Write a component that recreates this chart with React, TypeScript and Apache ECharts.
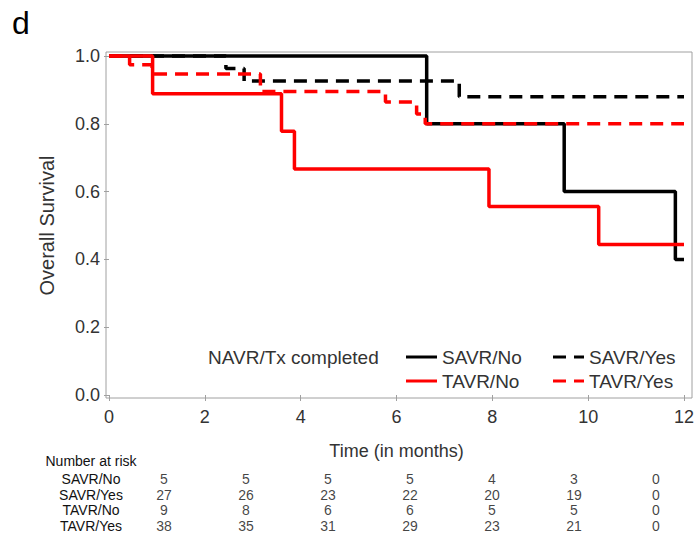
import React, { useEffect, useRef } from "react";
import * as echarts from "echarts";

const FONT = "'Liberation Sans', Arial, Helvetica, sans-serif";
const GRAY = "#a0a0a0";
const TEXT = "#333333";

// Time ticks (months)
const timeTicks = [0, 2, 4, 6, 8, 10, 12];

// Kaplan-Meier steps: [time, survival]
const savrNo = [[0, 1], [6.63, 0.8], [9.5, 0.6], [11.82, 0.4], [12, 0.4]];
const savrYes = [[0, 1], [2.44, 0.963], [2.82, 0.926], [7.31, 0.88], [12, 0.88]];
const tavrNo = [[0, 1], [0.91, 0.889], [3.6, 0.778], [3.87, 0.667], [7.93, 0.556], [10.22, 0.444], [12, 0.444]];
const tavrYes = [[0, 1], [0.43, 0.974], [0.9, 0.947], [3.16, 0.895], [5.77, 0.864], [6.42, 0.829], [6.6, 0.8], [12, 0.8]];

// Number at risk table
const riskGroups = ["SAVR/No", "SAVR/Yes", "TAVR/No", "TAVR/Yes"];
const riskSavrNo = [5, 5, 5, 5, 4, 3, 0];
const riskSavrYes = [27, 26, 23, 22, 20, 19, 0];
const riskTavrNo = [9, 8, 6, 6, 5, 5, 0];
const riskTavrYes = [38, 35, 31, 29, 23, 21, 0];

const SOLID_ICON = "path://M0,0H31V3H0Z";
const DASH_ICON = "path://M0,0H13V3H0Z M21,0H31V3H21Z";

export default function App() {
  const ref = useRef<HTMLDivElement>(null);
  useEffect(() => {
    document.body.style.margin = "0";
    const chart = echarts.init(ref.current!, null, { renderer: "svg" });
    const riskRows = [riskSavrNo, riskSavrYes, riskTavrNo, riskTavrYes];
    const riskData: any[] = [];
    riskRows.forEach((row, r) =>
      row.forEach((v, c) => riskData.push([String(timeTicks[c]), riskGroups[r], v]))
    );
    const km = (name: string, data: number[][], color: string, dashed: boolean) => ({
      name,
      type: "line",
      step: "end",
      data,
      symbol: "none",
      clip: false,
      xAxisIndex: 0,
      yAxisIndex: 0,
      lineStyle: { color, width: 3.5, type: dashed ? [13, 8] : "solid", cap: "butt" },
      itemStyle: { color },
    });
    const legendCommon = {
      left: 406,
      orient: "horizontal",
      padding: 0,
      itemWidth: 31,
      itemHeight: 3,
      itemGap: 8,
      selectedMode: false,
      textStyle: { fontSize: 19, fontFamily: FONT, color: TEXT, width: 103, lineHeight: 20 },
    };
    chart.setOption({
      animation: false,
      legend: [
        {
          ...legendCommon,
          top: 347,
          data: [
            { name: "SAVR/No", icon: SOLID_ICON },
            { name: "SAVR/Yes", icon: DASH_ICON },
          ],
        },
        {
          ...legendCommon,
          top: 371,
          data: [
            { name: "TAVR/No", icon: SOLID_ICON },
            { name: "TAVR/Yes", icon: DASH_ICON },
          ],
        },
      ],
      grid: [
        { left: 109, top: 56, width: 581, height: 339 },
        { left: 123, top: 471, width: 596, height: 63 },
      ],
      xAxis: [
        {
          type: "value",
          gridIndex: 0,
          min: 0,
          max: 12,
          interval: 2,
          offset: 3,
          axisLine: { show: false },
          axisTick: { length: 6, lineStyle: { color: GRAY } },
          axisLabel: { fontSize: 18, fontFamily: FONT, color: TEXT, margin: 10 },
          splitLine: { show: false },
          name: "Time (in months)",
          nameLocation: "middle",
          nameGap: 44,
          nameTextStyle: { fontSize: 18, fontFamily: FONT, color: TEXT },
        },
        {
          type: "category",
          gridIndex: 1,
          data: timeTicks.map(String),
          show: false,
        },
      ],
      yAxis: [
        {
          type: "value",
          gridIndex: 0,
          min: 0,
          max: 1,
          interval: 0.2,
          offset: 3,
          axisLine: { show: false },
          axisTick: { length: 5, lineStyle: { color: GRAY } },
          axisLabel: {
            fontSize: 18,
            fontFamily: FONT,
            color: TEXT,
            margin: 6,
            formatter: (v: number) => v.toFixed(1),
          },
          splitLine: { show: false },
          name: "Overall Survival",
          nameLocation: "middle",
          nameGap: 49,
          nameTextStyle: { fontSize: 20, fontFamily: FONT, color: TEXT },
        },
        {
          type: "category",
          gridIndex: 1,
          data: riskGroups,
          inverse: true,
          axisLine: { show: false },
          axisTick: { show: false },
          axisLabel: { interval: 0, fontSize: 14, fontFamily: FONT, color: "#111", align: "center", margin: 32 },
        },
      ],
      graphic: [
        {
          type: "rect",
          shape: { x: 106, y: 52, width: 586, height: 346 },
          style: { fill: "none", stroke: GRAY, lineWidth: 1 },
          silent: true,
          z: 0,
        },
        {
          type: "text",
          x: 12,
          y: 23,
          style: { text: "d", fontSize: 32, fontFamily: FONT, fill: "#000", verticalAlign: "middle" },
        },
        {
          type: "text",
          x: 208,
          y: 357,
          style: { text: "NAVR/Tx completed", fontSize: 19, fontFamily: FONT, fill: TEXT, verticalAlign: "middle" },
        },
        {
          type: "text",
          x: 91,
          y: 461,
          style: { text: "Number at risk", fontSize: 14, fontFamily: FONT, fill: "#111", align: "center", verticalAlign: "middle" },
        },
      ],
      series: [
        km("SAVR/Yes", savrYes, "#000000", true),
        km("SAVR/No", savrNo, "#000000", false),
        km("TAVR/Yes", tavrYes, "#ff0000", true),
        km("TAVR/No", tavrNo, "#ff0000", false),
        {
          type: "scatter",
          xAxisIndex: 1,
          yAxisIndex: 1,
          data: riskData,
          symbolSize: 1,
          itemStyle: { color: "rgba(0,0,0,0)" },
          label: {
            show: true,
            position: "inside",
            formatter: (p: any) => String(p.value[2]),
            fontSize: 14,
            fontFamily: FONT,
            color: "#111",
          },
        },
      ],
    });
    return () => chart.dispose();
  }, []);
  return <div ref={ref} style={{ width: 697, height: 534 }} />;
}
